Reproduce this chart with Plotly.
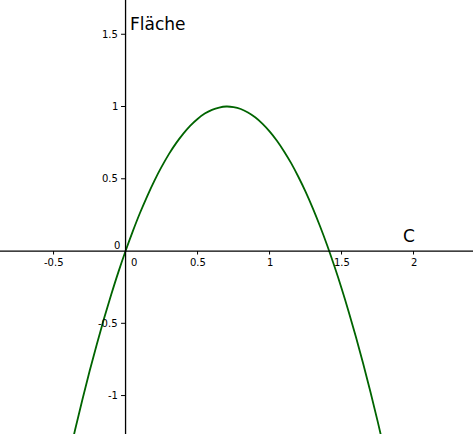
import plotly.graph_objects as go

# Curve samples
x_vals = [-0.40, -0.35, -0.30, -0.25, -0.20, -0.15, -0.10, -0.05, 0.00, 0.05,
          0.10, 0.15, 0.20, 0.25, 0.30, 0.35, 0.40, 0.45, 0.50, 0.55,
          0.60, 0.65, 0.70, 0.75, 0.80, 0.85, 0.90, 0.95, 1.00, 1.05,
          1.10, 1.15, 1.20, 1.25, 1.30, 1.35, 1.40, 1.45, 1.50, 1.55,
          1.60, 1.65, 1.70, 1.75, 1.80]
y_vals = [-1.451, -1.235, -1.029, -0.832, -0.646, -0.469, -0.303, -0.146, 0.000, 0.136,
          0.263, 0.379, 0.486, 0.582, 0.669, 0.745, 0.811, 0.868, 0.914, 0.951,
          0.977, 0.993, 1.000, 0.996, 0.983, 0.959, 0.926, 0.882, 0.828, 0.765,
          0.691, 0.608, 0.514, 0.411, 0.297, 0.173, 0.040, -0.104, -0.257, -0.421,
          -0.595, -0.778, -0.972, -1.175, -1.389]

x_ticks = [-0.5, 0.5, 1, 1.5, 2]
x_tick_labels = ["-0.5", "0.5", "1", "1.5", "2"]
y_ticks = [-1, -0.5, 0.5, 1, 1.5]
y_tick_labels = ["-1", "-0.5", "0.5", "1", "1.5"]

x_range = [-0.872, 2.413]
y_range = [-1.266, 1.737]

fig = go.Figure()
fig.add_trace(go.Scatter(x=x_vals, y=y_vals, mode="lines",
                         line=dict(color="#006400", width=1.8, shape="spline", smoothing=1),
                         hoverinfo="skip", showlegend=False))

shapes = [
    dict(type="line", xref="paper", yref="y", x0=0, x1=1, y0=0, y1=0,
         line=dict(color="black", width=1.3)),
    dict(type="line", xref="x", yref="paper", x0=0, x1=0, y0=0, y1=1,
         line=dict(color="black", width=1.3)),
]
annotations = []
font = dict(family="DejaVu Sans", size=10, color="black")
for t, lab in zip(x_ticks, x_tick_labels):
    shapes.append(dict(type="line", xref="x", yref="y", ysizemode="pixel", yanchor=0,
                       x0=t, x1=t, y0=0, y1=-3.5, line=dict(color="black", width=1)))
    annotations.append(dict(x=t, y=0, xref="x", yref="y", text=lab, showarrow=False,
                            xanchor="center", yanchor="middle", yshift=-11, font=font))
for t, lab in zip(y_ticks, y_tick_labels):
    shapes.append(dict(type="line", xref="x", yref="y", xsizemode="pixel", xanchor=0,
                       y0=t, y1=t, x0=0, x1=-4.5, line=dict(color="black", width=1)))
    annotations.append(dict(x=0, y=t, xref="x", yref="y", text=lab, showarrow=False,
                            xanchor="right", yanchor="middle", xshift=-6, font=font))
# origin labels
annotations.append(dict(x=0, y=0, xref="x", yref="y", text="0", showarrow=False,
                        xanchor="center", yanchor="middle", xshift=8.5, yshift=-11, font=font))
annotations.append(dict(x=0, y=0, xref="x", yref="y", text="0", showarrow=False,
                        xanchor="center", yanchor="middle", xshift=-9, yshift=5.5, font=font))
# axis names
annotations.append(dict(x=0, y=1.573, xref="x", yref="y", text="Fläche", showarrow=False,
                        xanchor="left", yanchor="middle", xshift=2,
                        font=dict(family="DejaVu Sans", size=17, color="black")))
annotations.append(dict(x=1.969, y=0.104, xref="x", yref="y", text="C", showarrow=False,
                        xanchor="center", yanchor="middle",
                        font=dict(family="DejaVu Sans", size=17, color="black")))

fig.update_layout(
    width=473, height=434,
    margin=dict(l=0, r=0, t=0, b=0),
    paper_bgcolor="white", plot_bgcolor="white",
    xaxis=dict(range=x_range, visible=False, fixedrange=True),
    yaxis=dict(range=y_range, visible=False, fixedrange=True),
    shapes=shapes, annotations=annotations,
)
fig.write_html("out.html", config={"displayModeBar": False},
               post_script="document.body.style.margin='0';document.body.style.overflow='hidden';")
